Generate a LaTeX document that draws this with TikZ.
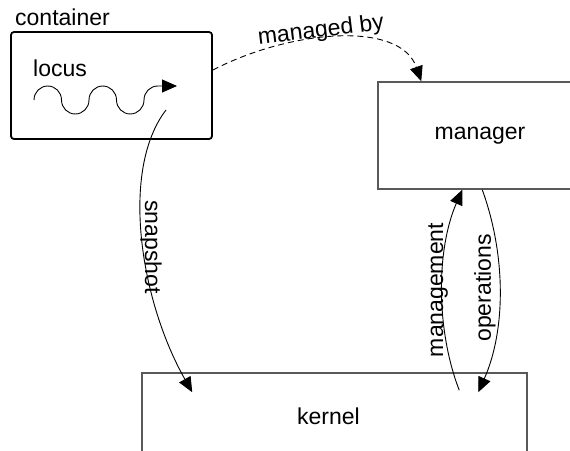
\documentclass[tikz,border=0pt]{standalone}
\usepackage{fontspec}
\setmainfont{Liberation Sans}
\usetikzlibrary{arrows.meta}

\begin{document}
\begin{tikzpicture}[x=1pt,y=-1pt,
  every node/.style={font=\fontsize{23}{27}\selectfont, inner sep=0pt},
  box/.style={draw=black!65, line width=1.5pt},
  holder/.style={draw=black, line width=1.8pt, rounded corners=3pt},
  tip/.style={-{Triangle[length=15pt,width=13pt]}},
  link/.style={line width=0.9pt, tip},
  hump/.style={x radius=13.75pt, y radius=14pt},
]
\useasboundingbox (0,0) rectangle (570,450);
\clip (0,0) rectangle (570,450);

% boxes
\node[holder, minimum width=201pt, minimum height=107pt] (container) at (111.5,85.5) {};
\node[anchor=base west] (container-label) at (15,25) {container};
\node[anchor=base west] (locus) at (33,76) {locus};
\node[box, minimum width=204pt, minimum height=107pt] (manager) at (480,135.5) {manager};
\node[box, minimum width=385pt, minimum height=86pt,
      label={[xshift=-6pt]center:kernel}] (kernel) at (334.5,416) {};

% the locus wave: alternating half arcs ending in an arrow
\coordinate (wave-from) at (34,100);
\coordinate (wave-tip) at (177,86);
\draw[link] (wave-from)
  arc[start angle=180, end angle=0, hump]
  arc[start angle=180, end angle=360, hump]
  arc[start angle=180, end angle=0, hump]
  arc[start angle=180, end angle=360, hump]
  arc[start angle=180, end angle=90, hump]
  -- (wave-tip);

% connector ends
\coordinate (snap-from) at (166,110);
\coordinate (snap-to) at ([xshift=51pt,yshift=-20pt]kernel.north west);
\coordinate (mb-from) at ([yshift=15.5pt]container.east);
\coordinate (mb-to) at ([xshift=44pt]manager.north west);
\coordinate (mgmt-from) at ([xshift=318pt,yshift=-18pt]kernel.north west);
\coordinate (mgmt-to) at ([xshift=85pt]manager.south west);
\coordinate (ops-from) at ([xshift=105pt]manager.south west);
\coordinate (ops-to) at ([xshift=337pt,yshift=-20pt]kernel.north west);

% connectors
\draw[link, dash pattern=on 6pt off 4pt] (mb-from) .. controls (290,30) and (400,20) .. (mb-to);
\draw[link] (snap-from) .. controls (120,170) and (140,300) .. (snap-to);
\draw[link] (mgmt-from) .. controls (436,330) and (436,250) .. (mgmt-to);
\draw[link] (ops-from) .. controls (506,255) and (506,330) .. (ops-to);

% connector labels
\node[rotate=7] (mb-label) at (321,31) {managed by};
\node[rotate=-90] (snap-label) at (151,247) {snapshot};
\node[rotate=90] (mgmt-label) at (438,290) {management};
\node[rotate=90] (ops-label) at (485,288) {operations};
\end{tikzpicture}
\end{document}
